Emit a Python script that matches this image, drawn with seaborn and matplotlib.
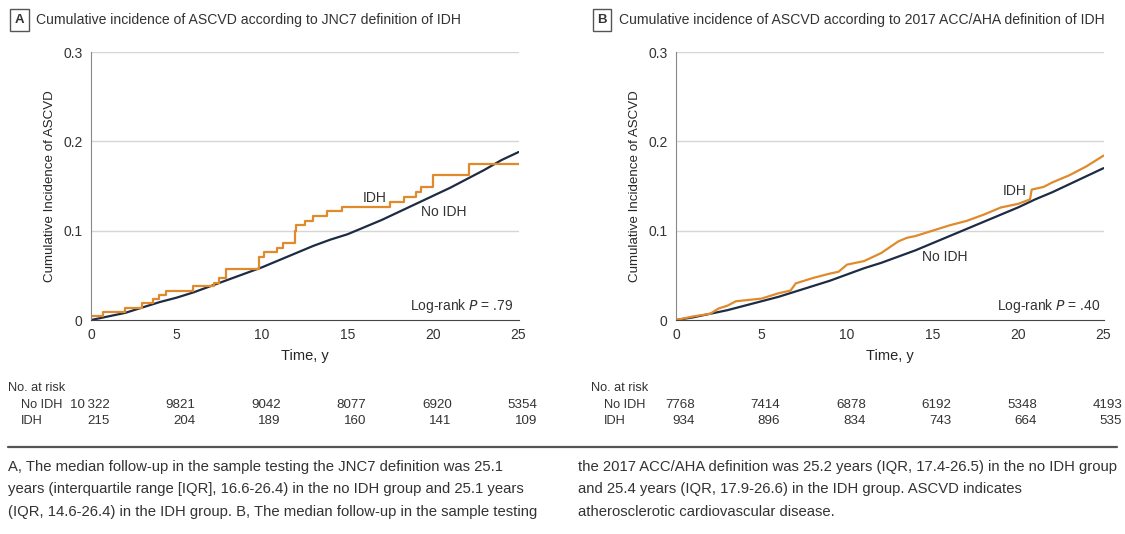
import matplotlib
matplotlib.use('Agg')
import matplotlib.pyplot as plt
import matplotlib.transforms as mtransforms
import seaborn as sns

# ---------------------------------------------------------------------------
# data

years = [0, 5, 10, 15, 20, 25]

# panel A: JNC7 definition
a_idh_t = [0, 0.7, 2.0, 3.0, 3.6, 3.95, 4.4, 5.95, 7.2, 7.5, 7.9, 9.85, 10.1, 10.85,
           11.25, 11.9, 12.0, 12.5, 13.0, 13.8, 14.7, 17.5, 18.3, 19.0, 19.3, 20.0,
           22.1, 25]
a_idh_y = [0.004, 0.009, 0.0135, 0.0185, 0.0235, 0.028, 0.033, 0.038, 0.042, 0.047,
           0.057, 0.071, 0.076, 0.081, 0.086, 0.100, 0.106, 0.111, 0.117, 0.122,
           0.127, 0.132, 0.138, 0.143, 0.149, 0.162, 0.175, 0.175]
a_noidh_t = [0, 1, 2, 3, 4, 5, 6, 7, 8, 9, 10, 11, 12, 13, 14, 15, 16, 17, 18, 19,
             20, 21, 22, 23, 24, 25]
a_noidh_y = [0, 0.004, 0.008, 0.014, 0.020, 0.025, 0.031, 0.038, 0.045, 0.052, 0.059,
             0.067, 0.075, 0.083, 0.090, 0.096, 0.104, 0.112, 0.121, 0.130, 0.139,
             0.148, 0.158, 0.168, 0.179, 0.188]

# panel B: 2017 ACC/AHA definition
b_idh_t = [0, 1, 2, 2.5, 3, 3.5, 4, 5, 6, 6.7, 7, 8, 9, 9.5, 10, 11, 12, 13, 13.5, 14,
           15, 16, 17, 18, 19, 20, 20.7, 20.8, 21.5, 22, 23, 24, 25]
b_idh_y = [0, 0.004, 0.007, 0.013, 0.016, 0.021, 0.022, 0.024, 0.030, 0.033, 0.041,
           0.047, 0.052, 0.054, 0.062, 0.066, 0.075, 0.088, 0.092, 0.094, 0.100, 0.106,
           0.111, 0.118, 0.126, 0.130, 0.135, 0.146, 0.149, 0.154, 0.162, 0.172, 0.184]
b_noidh_t = [0, 1, 2, 3, 4, 5, 6, 7, 8, 9, 10, 11, 12, 13, 14, 15, 16, 17, 18, 19, 20,
             21, 22, 23, 24, 25]
b_noidh_y = [0, 0.003, 0.007, 0.011, 0.016, 0.021, 0.026, 0.032, 0.038, 0.044, 0.051,
             0.058, 0.064, 0.071, 0.078, 0.086, 0.094, 0.102, 0.110, 0.118, 0.126,
             0.135, 0.143, 0.152, 0.161, 0.170]

a_risk_noidh = ['10\u2009322', '9821', '9042', '8077', '6920', '5354']
a_risk_idh = ['215', '204', '189', '160', '141', '109']
b_risk_noidh = ['7768', '7414', '6878', '6192', '5348', '4193']
b_risk_idh = ['934', '896', '834', '743', '664', '535']

ORANGE = '#E08A2C'
NAVY = '#1E2B44'
TXT = '#333333'

sns.set_style('white')
plt.rcParams['font.family'] = ['Liberation Sans', 'DejaVu Sans']
plt.rcParams['text.color'] = TXT

fig = plt.figure(figsize=(11.25, 5.34), dpi=100)


def draw_panel(left, letter, title, idh_t, idh_y, no_t, no_y, risk_no, risk_idh,
               idh_lab, no_lab, pval, title_x, steps):
    ax = fig.add_axes([left, 0.4007, 0.38, 0.5019])
    for yv in [0.1, 0.2, 0.3]:
        ax.axhline(yv, color='#d6d6d6', lw=1, zorder=0)
    sns.lineplot(x=no_t, y=no_y, ax=ax, color=NAVY, lw=1.6, estimator=None, sort=False)
    sns.lineplot(x=idh_t, y=idh_y, ax=ax, color=ORANGE, lw=1.6, estimator=None,
                 sort=False, drawstyle='steps-post' if steps else 'default')
    ax.set_xlim(0, 25)
    ax.set_ylim(0, 0.3)
    ax.set_xticks(years)
    ax.set_yticks([0, 0.1, 0.2, 0.3])
    ax.set_yticklabels(['0', '0.1', '0.2', '0.3'])
    ax.tick_params(axis='both', direction='out', length=4, width=1, labelsize=10,
                   colors='#777777', labelcolor=TXT, pad=2)
    for s in ['top', 'right']:
        ax.spines[s].set_visible(False)
    ax.spines['left'].set_color('#888888')
    ax.spines['bottom'].set_color('#444444')
    ax.set_xlabel('Time, y', fontsize=10.5, labelpad=5)
    ax.set_ylabel('Cumulative Incidence of ASCVD', fontsize=9.6, labelpad=5)
    ax.text(idh_lab[0], idh_lab[1], 'IDH', fontsize=10, ha='center', va='center')
    ax.text(no_lab[0], no_lab[1], 'No IDH', fontsize=10, ha='center', va='center')
    ax.text(pval[0], 0.016, 'Log-rank $\\it{P}$ = .' + pval[1], fontsize=10,
            ha='right', va='center')

    # number at risk table
    tr = mtransforms.blended_transform_factory(ax.transData, fig.transFigure)
    fig.text(title_x - 0.002, 1 - 388 / 534, 'No. at risk', fontsize=9.2, va='center')
    fig.text(title_x + 0.010, 1 - 405 / 534, 'No IDH', fontsize=9.2, va='center')
    fig.text(title_x + 0.010, 1 - 421 / 534, 'IDH', fontsize=9.2, va='center')
    for yr, n1, n2 in zip(years, risk_no, risk_idh):
        ax.text(yr + 1.1, 1 - 405 / 534, n1, transform=tr, fontsize=9.6, ha='right',
                va='center', clip_on=False)
        ax.text(yr + 1.1, 1 - 421 / 534, n2, transform=tr, fontsize=9.6, ha='right',
                va='center', clip_on=False)

    # panel letter and title
    fig.text(title_x + 0.008, 1 - 20 / 534, letter, fontsize=9.5, fontweight='bold',
             ha='center', va='center',
             bbox=dict(boxstyle='square,pad=0.35', fc='white', ec='#555555', lw=1))
    fig.text(title_x + 0.023, 1 - 20 / 534, title, fontsize=10.1, va='center')
    return ax


draw_panel(0.0809, 'A', 'Cumulative incidence of ASCVD according to JNC7 definition of IDH',
           a_idh_t, a_idh_y, a_noidh_t, a_noidh_y, a_risk_noidh, a_risk_idh,
           (16.6, 0.137), (20.6, 0.121), (24.7, '79'), 0.009, True)
draw_panel(0.6009, 'B', 'Cumulative incidence of ASCVD according to 2017 ACC/AHA definition of IDH',
           b_idh_t, b_idh_y, b_noidh_t, b_noidh_y, b_risk_noidh, b_risk_idh,
           (19.8, 0.144), (15.7, 0.070), (24.85, '40'), 0.527, False)

# separator and caption
fig.add_artist(plt.Line2D([0.007, 0.993], [1 - 447 / 534, 1 - 447 / 534],
                          color='#555555', lw=1.6))
left_cap = ['A, The median follow-up in the sample testing the JNC7 definition was 25.1',
            'years (interquartile range [IQR], 16.6-26.4) in the no IDH group and 25.1 years',
            '(IQR, 14.6-26.4) in the IDH group. B, The median follow-up in the sample testing']
right_cap = ['the 2017 ACC/AHA definition was 25.2 years (IQR, 17.4-26.5) in the no IDH group',
             'and 25.4 years (IQR, 17.9-26.6) in the IDH group. ASCVD indicates',
             'atherosclerotic cardiovascular disease.']
for i, (l, r) in enumerate(zip(left_cap, right_cap)):
    yy = 1 - (467 + 22.5 * i) / 534
    fig.text(0.007, yy, l, fontsize=10.7, va='center')
    fig.text(0.514, yy, r, fontsize=10.7, va='center')

fig.savefig('out.png', dpi=100)
